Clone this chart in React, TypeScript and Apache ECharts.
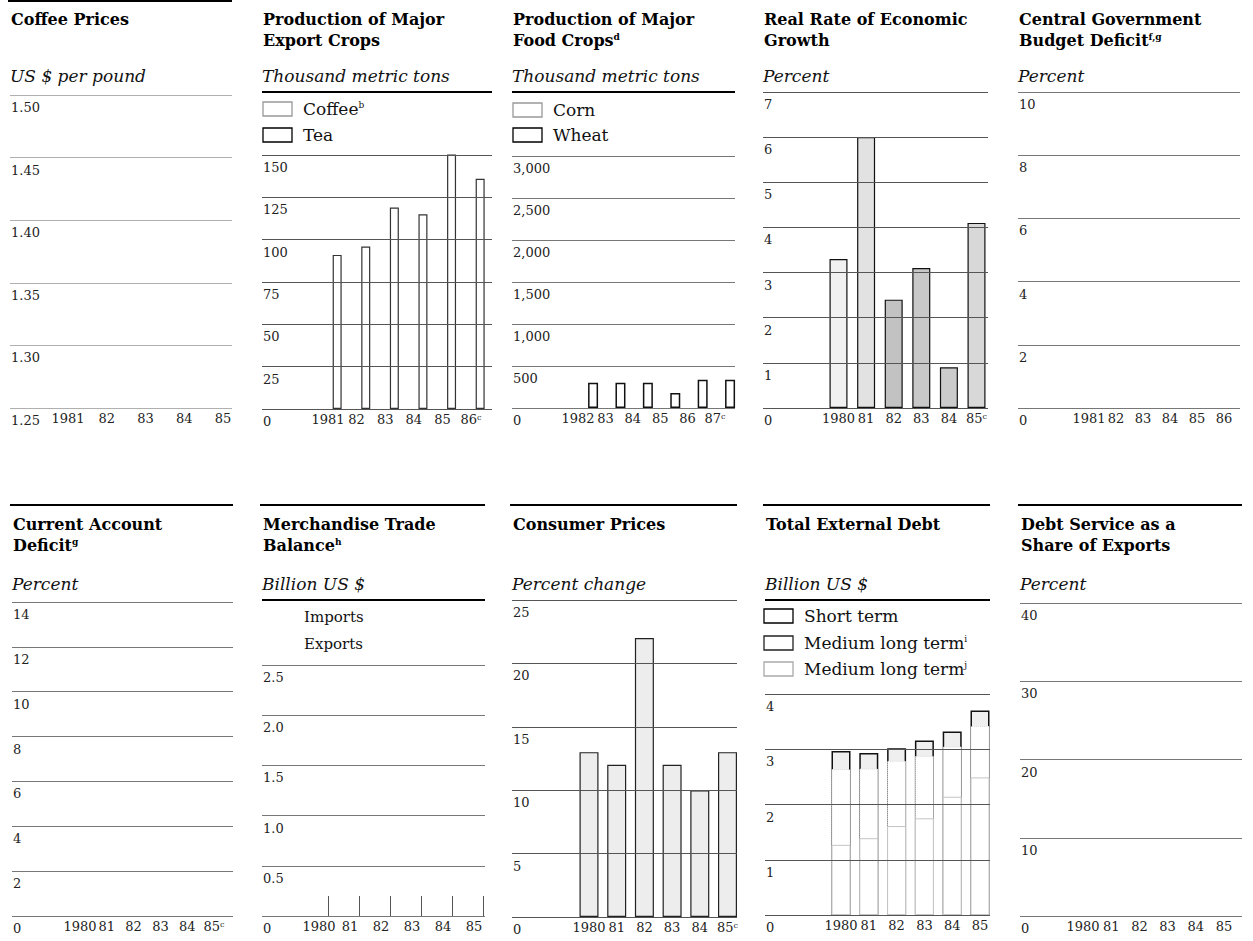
import React, { useEffect, useRef } from "react";
import * as echarts from "echarts";

const FONT = '"DejaVu Serif", "Liberation Serif", serif';

// ---------- data ----------
// 1 Coffee prices
const coffeeYears = ["1981", "82", "83", "84", "85"];
const coffeeTicks = [1.25, 1.3, 1.35, 1.4, 1.45, 1.5];
// 2 Export crops
const exportYears = ["1981", "82", "83", "84", "85", "86{s|c}"];
const exportTicks = [0, 25, 50, 75, 100, 125, 150];
const exportLegend = ["Coffee{s|b}", "Tea"];
const teaOutput = [91, 96, 119, 115, 152, 136];
// 3 Food crops
const foodYears = ["1982", "83", "84", "85", "86", "87{s|c}"];
const foodTicks = [0, 500, 1000, 1500, 2000, 2500, 3000];
const foodLegend = ["Corn", "Wheat"];
const wheatOutput = [300, 300, 300, 180, 335, 335];
// 4 Real growth
const growthYears = ["1980", "81", "82", "83", "84", "85{s|c}"];
const growthTicks = [0, 1, 2, 3, 4, 5, 6, 7];
const growthRate = [3.3, 6.0, 2.4, 3.1, 0.9, 4.1];
// 5 Budget deficit
const budgetYears = ["1981", "82", "83", "84", "85", "86"];
const budgetTicks = [0, 2, 4, 6, 8, 10];
// 6 Current account deficit
const currentYears = ["1980", "81", "82", "83", "84", "85{s|c}"];
const currentTicks = [0, 2, 4, 6, 8, 10, 12, 14];
// 7 Merchandise trade
const tradeYears = ["1980", "81", "82", "83", "84", "85"];
const tradeTicks = [0, 0.5, 1, 1.5, 2, 2.5];
const tradeLegend = ["Imports", "Exports"];
// 8 Consumer prices
const cpiYears = ["1980", "81", "82", "83", "84", "85{s|c}"];
const cpiTicks = [0, 5, 10, 15, 20, 25];
const cpiChange = [13, 12, 22, 12, 10, 13];
// 9 External debt
const debtYears = ["1980", "81", "82", "83", "84", "85"];
const debtTicks = [0, 1, 2, 3, 4];
const debtLegend = ["Short term", "Medium long term{s|i}", "Medium long term{s|j}"];
const debtMediumLongJ = [1.27, 1.39, 1.61, 1.75, 2.14, 2.49];
const debtMediumLongI = [1.37, 1.26, 1.18, 1.13, 0.91, 0.93];
const debtShortTerm = [0.33, 0.28, 0.23, 0.28, 0.27, 0.28];
// 10 Debt service
const serviceYears = ["1980", "81", "82", "83", "84", "85"];
const serviceTicks = [0, 10, 20, 30, 40];

const titles = [
  ["Coffee Prices"],
  ["Production of Major", "Export Crops"],
  ["Production of Major", "Food Crops{s|d}"],
  ["Real Rate of Economic", "Growth"],
  ["Central Government", "Budget Deficit{s|f,g}"],
  ["Current Account", "Deficit{s|g}"],
  ["Merchandise Trade", "Balance{s|h}"],
  ["Consumer Prices"],
  ["Total External Debt"],
  ["Debt Service as a", "Share of Exports"],
];
const units = [
  "US $ per pound",
  "Thousand metric tons",
  "Thousand metric tons",
  "Percent",
  "Percent",
  "Percent",
  "Billion US $",
  "Percent change",
  "Billion US $",
  "Percent",
];

// ---------- layout ----------
type Layout = { gl: number; gr: number; top: number; base: number; c0: number; s: number; row: number };
const layouts: Layout[] = [
  { gl: 10, gr: 232, top: 95, base: 408, c0: 68, s: 38.75, row: 0 },
  { gl: 262, gr: 492, top: 155, base: 409, c0: 328, s: 28.6, row: 0 },
  { gl: 512, gr: 735, top: 156, base: 408, c0: 578, s: 27.4, row: 0 },
  { gl: 763, gr: 988, top: 92, base: 408, c0: 838.5, s: 27.6, row: 0 },
  { gl: 1018, gr: 1240, top: 92, base: 408, c0: 1089, s: 27, row: 0 },
  { gl: 12, gr: 233, top: 602, base: 916, c0: 80, s: 26.8, row: 1 },
  { gl: 262, gr: 485, top: 665, base: 916, c0: 319, s: 31, row: 1 },
  { gl: 512, gr: 737, top: 600, base: 917, c0: 589, s: 27.7, row: 1 },
  { gl: 765, gr: 990, top: 694, base: 915, c0: 841, s: 27.8, row: 1 },
  { gl: 1020, gr: 1242, top: 603, base: 916, c0: 1083, s: 28.2, row: 1 },
];

const intFmt = (v: number) => String(Math.round(v));
const panels = [
  { years: coffeeYears, ticks: coffeeTicks, fmt: (v: number) => v.toFixed(2), grid: "#b0b0b0" },
  { years: exportYears, ticks: exportTicks, fmt: intFmt, grid: "#555" },
  { years: foodYears, ticks: foodTicks, fmt: (v: number) => Math.round(v).toLocaleString("en-US"), grid: "#777" },
  { years: growthYears, ticks: growthTicks, fmt: intFmt, grid: "#555" },
  { years: budgetYears, ticks: budgetTicks, fmt: intFmt, grid: "#777" },
  { years: currentYears, ticks: currentTicks, fmt: intFmt, grid: "#777" },
  { years: tradeYears, ticks: tradeTicks, fmt: (v: number) => (v === 0 ? "0" : v.toFixed(1)), grid: "#777" },
  { years: cpiYears, ticks: cpiTicks, fmt: intFmt, grid: "#555" },
  { years: debtYears, ticks: debtTicks, fmt: intFmt, grid: "#555" },
  { years: serviceYears, ticks: serviceTicks, fmt: intFmt, grid: "#777" },
];

const growthFills = ["#f1f1f1", "#e2e2e2", "#c2c2c2", "#c8c8c8", "#cbcbcb", "#d8d8d8"];

function buildOption() {
  const grid: any[] = [];
  const xAxis: any[] = [];
  const yAxis: any[] = [];
  const series: any[] = [];
  const elements: any[] = [];

  panels.forEach((p, i) => {
    const L = layouts[i];
    grid.push({
      left: L.gl,
      top: L.top,
      width: L.gr - L.gl,
      height: L.base - L.top,
      containLabel: false,
      outerBoundsMode: "none",
    });
    const idx = p.years.map((_, k) => k);
    const tick: any =
      i === 6
        ? {
            show: true,
            inside: true,
            length: 20,
            customValues: idx.map((k) => k + 0.3),
            lineStyle: { color: "#555", width: 1 },
          }
        : { show: false };
    xAxis.push({
      gridIndex: i,
      type: "value",
      min: (L.gl - L.c0) / L.s,
      max: (L.gr - L.c0) / L.s,
      axisLine: { show: false },
      splitLine: { show: false },
      axisTick: tick,
      axisLabel: {
        customValues: idx,
        formatter: (v: number) => p.years[Math.round(v)] ?? "",
        margin: 4,
        color: "#222",
        fontFamily: FONT,
        fontSize: 13,
        rich: { s: { fontSize: 8, fontFamily: FONT, color: "#222", verticalAlign: "top" } },
      },
    });
    const t = p.ticks;
    const step = Math.round((t[1] - t[0]) * 1e6) / 1e6;
    yAxis.push({
      gridIndex: i,
      type: "value",
      min: t[0],
      max: t[t.length - 1],
      interval: step,
      z: 3,
      axisLine: { show: false },
      axisTick: { show: false },
      splitLine: { show: true, lineStyle: { color: p.grid, width: 1 } },
      axisLabel: {
        inside: true,
        margin: 1,
        align: "left",
        verticalAlign: "top",
        padding: [6, 0, 0, 0],
        formatter: p.fmt,
        color: "#222",
        fontFamily: FONT,
        fontSize: 13,
      },
    });

    // titles
    const rowY = L.row === 0 ? 0 : 505;
    titles[i].forEach((line, k) => {
      elements.push({
        type: "text",
        x: L.gl + 1,
        y: rowY + 19 + k * 21,
        style: {
          text: line,
          font: `bold 16px ${FONT}`,
          fill: "#000",
          align: "left",
          verticalAlign: "middle",
          rich: { s: { fontSize: 9, fontWeight: "bold", fontFamily: FONT, verticalAlign: "top", fill: "#000" } },
        },
      });
    });
    elements.push({
      type: "text",
      x: L.gl,
      y: rowY + (L.row === 0 ? 76 : 79),
      style: { text: units[i], font: `italic 17px ${FONT}`, fill: "#111", align: "left", verticalAlign: "middle" },
    });
    if (L.row === 1 || i === 0) {
      elements.push({
        type: "line",
        shape: { x1: L.gl - 2, y1: rowY + (L.row === 0 ? 1 : 0), x2: L.gr, y2: rowY + (L.row === 0 ? 1 : 0) },
        style: { stroke: "#000", lineWidth: 2 },
      });
    }
  });

  // rules under units (legend panels)
  [[1, 92], [2, 92], [6, 600], [8, 600]].forEach(([pi, y]) => {
    const L = layouts[pi];
    elements.push({
      type: "line",
      shape: { x1: L.gl, y1: y, x2: L.gr, y2: y },
      style: { stroke: "#000", lineWidth: 2 },
    });
  });

  const legendItem = (x: number, y: number, text: string, stroke: string | null) => {
    if (stroke) {
      elements.push({
        type: "rect",
        shape: { x, y: y - 7, width: 29, height: 14 },
        style: { fill: "#fff", stroke, lineWidth: 1.3 },
      });
    }
    elements.push({
      type: "text",
      x: x + 40,
      y,
      style: {
        text,
        font: `17px ${FONT}`,
        fill: "#111",
        align: "left",
        verticalAlign: "middle",
        rich: { s: { fontSize: 9, fontFamily: FONT, verticalAlign: "top", fill: "#111" } },
      },
    });
  };
  legendItem(263, 109, exportLegend[0], "#999");
  legendItem(263, 135, exportLegend[1], "#000");
  legendItem(513, 110, foodLegend[0], "#999");
  legendItem(513, 135, foodLegend[1], "#000");
  elements.push({
    type: "text", x: 304, y: 617,
    style: { text: tradeLegend[0], font: `15px ${FONT}`, fill: "#111", align: "left", verticalAlign: "middle" },
  });
  elements.push({
    type: "text", x: 304, y: 644,
    style: { text: tradeLegend[1], font: `15px ${FONT}`, fill: "#111", align: "left", verticalAlign: "middle" },
  });
  legendItem(764, 616, debtLegend[0], "#000");
  legendItem(764, 643, debtLegend[1], "#222");
  legendItem(764, 669, debtLegend[2], "#aaa");

  // ---------- series ----------
  series.push({
    type: "bar", name: "Tea", xAxisIndex: 1, yAxisIndex: 1, barWidth: 9,
    data: teaOutput.map((v, k) => [k + 0.32, v]),
    itemStyle: { color: "#fff", borderColor: "#333", borderWidth: 1.2 },
  });
  series.push({
    type: "bar", name: "Wheat", xAxisIndex: 2, yAxisIndex: 2, barWidth: 10,
    data: wheatOutput.map((v, k) => [k + 0.55, v]),
    itemStyle: { color: "#fff", borderColor: "#111", borderWidth: 1.5 },
  });
  series.push({
    type: "bar", name: "Growth", xAxisIndex: 3, yAxisIndex: 3, barWidth: 18,
    data: growthRate.map((v, k) => ({ value: [k, v], itemStyle: { color: growthFills[k] } })),
    itemStyle: { borderColor: "#111", borderWidth: 1.2 },
  });
  series.push({
    type: "bar", name: "Consumer prices", xAxisIndex: 7, yAxisIndex: 7, barWidth: 19,
    data: cpiChange.map((v, k) => [k, v]),
    itemStyle: { color: "#ededed", borderColor: "#222", borderWidth: 1.2 },
  });
  // external debt: cumulative totals drawn overlapping (top segment first, lower segments over it)
  const cumJ = debtMediumLongJ;
  const cumI = debtMediumLongJ.map((v, k) => v + debtMediumLongI[k]);
  const cumS = cumI.map((v, k) => v + debtShortTerm[k]);
  series.push({
    type: "bar", name: "Short term", xAxisIndex: 8, yAxisIndex: 8, barWidth: 19, barGap: "-100%",
    data: cumS.map((v, k) => [k, +v.toFixed(2)]),
    itemStyle: { color: "#efefef", borderColor: "#111", borderWidth: 1.5 },
  });
  series.push({
    type: "bar", name: "Medium long term i", xAxisIndex: 8, yAxisIndex: 8, barWidth: 19, barGap: "-100%",
    data: cumI.map((v, k) => [k, +v.toFixed(2)]),
    itemStyle: { color: "#fff", borderColor: "#dcdcdc", borderWidth: 1, borderType: "dotted" },
  });
  series.push({
    type: "bar", name: "Medium long term j", xAxisIndex: 8, yAxisIndex: 8, barWidth: 19, barGap: "-100%",
    data: cumJ.map((v, k) => [k, v]),
    itemStyle: { color: "#fff", borderColor: "#c4c4c4", borderWidth: 1 },
  });

  return {
    animation: false,
    backgroundColor: "#fff",
    textStyle: { fontFamily: FONT },
    grid,
    xAxis,
    yAxis,
    series,
    graphic: { elements },
  };
}

export default function App() {
  const ref = useRef<HTMLDivElement>(null);
  useEffect(() => {
    if (!ref.current) return;
    const chart = echarts.init(ref.current, null, { renderer: "svg", width: 1253, height: 941 });
    chart.setOption(buildOption() as any);
    return () => chart.dispose();
  }, []);
  return (
    <div
      ref={ref}
      style={{ position: "fixed", left: 0, top: 0, width: 1253, height: 941, background: "#fff" }}
    />
  );
}
